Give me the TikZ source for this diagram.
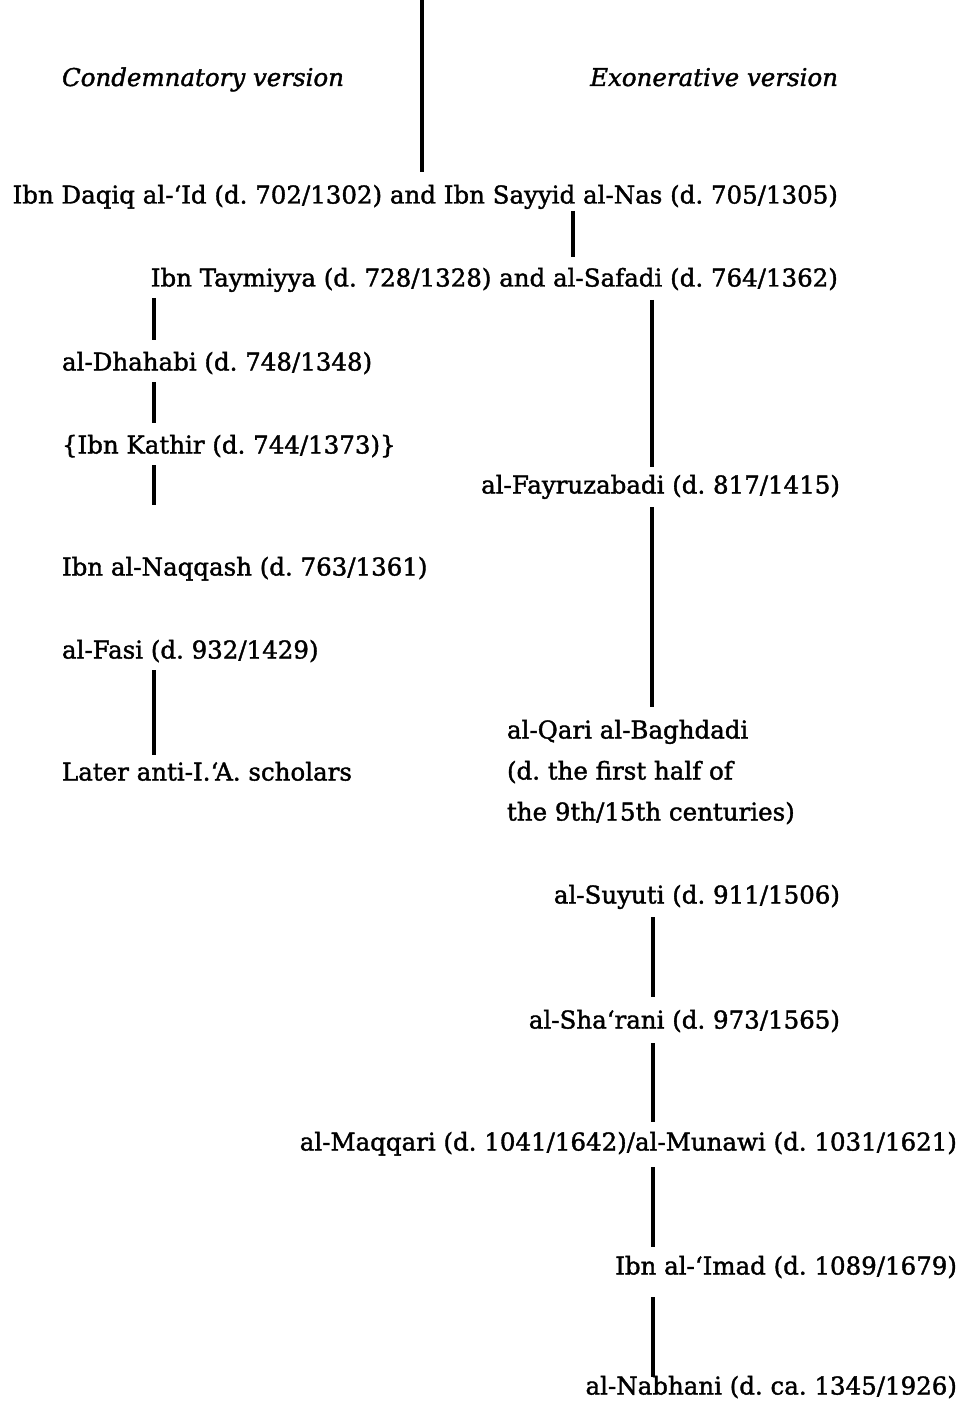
\documentclass[tikz,border=0pt]{standalone}
\usepackage{fontspec}
\setmainfont[FakeBold=1.5]{DejaVu Serif}
\begin{document}
\frenchspacing
\begin{tikzpicture}[x=1pt,y=-1pt,
  lbl/.style={inner sep=0pt, outer sep=0pt, font=\fontsize{24.5}{41}\selectfont},
  link/.style={line width=3.5pt, black}]
\fill[white] (0,0) rectangle (972,1404);
\useasboundingbox (0,0) rectangle (972,1404);
% headings
\node[lbl, anchor=base west] (cond) at (62,86) {\itshape Condemnatory version};
\node[lbl, anchor=base east] (exon) at (838,86) {\itshape Exonerative version};
% shared
\node[lbl, anchor=base east] (daqiq) at (838,203.5) {Ibn Daqiq al-‘Id (d. 702/1302) and Ibn Sayyid al-Nas (d. 705/1305)};
\node[lbl, anchor=base east] (taym) at (838,286.5) {Ibn Taymiyya (d. 728/1328) and al-Safadi (d. 764/1362)};
% left branch
\node[lbl, anchor=base west] (dhahabi) at (62,370.5) {al-Dhahabi (d. 748/1348)};
\node[lbl, anchor=base west] (kathir) at (62,453.5) {\{Ibn Kathir (d. 744/1373)\}};
\node[lbl, anchor=base west] (naqqash) at (62,575.5) {Ibn al-Naqqash (d. 763/1361)};
\node[lbl, anchor=base west] (fasi) at (62,658.5) {al-Fasi (d. 932/1429)};
\node[lbl, anchor=base west] (later) at (62,780.5) {Later anti-I.‘A. scholars};
% right branch
\node[lbl, anchor=base east] (fayruz) at (840,493.5) {al-Fayruzabadi (d. 817/1415)};
\node[lbl, anchor=base west, align=left] (qari) at (507,820.5) {al-Qari al-Baghdadi\\(d. the first half of\\the 9th/15th centuries)};
\node[lbl, anchor=base east] (suyuti) at (840,903.5) {al-Suyuti (d. 911/1506)};
\node[lbl, anchor=base east] (sharani) at (840,1028.5) {al-Sha‘rani (d. 973/1565)};
\node[lbl, anchor=base east] (maqqari) at (957,1150.5) {al-Maqqari (d. 1041/1642)/al-Munawi (d. 1031/1621)};
\node[lbl, anchor=base east] (imad) at (957,1274.5) {Ibn al-‘Imad (d. 1089/1679)};
\node[lbl, anchor=base east] (nabhani) at (957,1394.5) {al-Nabhani (d. ca. 1345/1926)};
% connector columns
\coordinate (top) at (422,0);
\coordinate (kend) at (154,505);
\coordinate (cA) at (573,0);
\coordinate (cB) at (652,0);
\coordinate (cC) at (653,0);
% connectors
\draw[link, shorten >=31.5pt] (top) -- (top |- daqiq.base);
\draw[link, shorten <=7.5pt, shorten >=29.5pt] (cA |- daqiq.base) -- (cA |- taym.base);
\draw[link, shorten <=11.5pt, shorten >=30.5pt] (kend |- taym.base) -- (kend |- dhahabi.base);
\draw[link, shorten <=13.5pt, shorten >=26.5pt] (cB |- taym.base) -- (cB |- fayruz.base);
\draw[link, shorten <=11.5pt, shorten >=30.5pt] (kend |- dhahabi.base) -- (kend |- kathir.base);
\draw[link, shorten <=11.5pt] (kend |- kathir.base) -- (kend);
\draw[link, shorten <=13.5pt, shorten >=13pt] (cB |- fayruz.base) -- (cB |- qari.north);
\draw[link, shorten <=11.5pt, shorten >=25.5pt] (kend |- fasi.base) -- (kend |- later.base);
\draw[link, shorten <=13.5pt, shorten >=31.5pt] (cC |- suyuti.base) -- (cC |- sharani.base);
\draw[link, shorten <=14.5pt, shorten >=28.5pt] (cC |- sharani.base) -- (cC |- maqqari.base);
\draw[link, shorten <=16.5pt, shorten >=27.5pt] (cC |- maqqari.base) -- (cC |- imad.base);
\draw[link, shorten <=22.5pt, shorten >=17.5pt] (cC |- imad.base) -- (cC |- nabhani.base);
\end{tikzpicture}
\end{document}
